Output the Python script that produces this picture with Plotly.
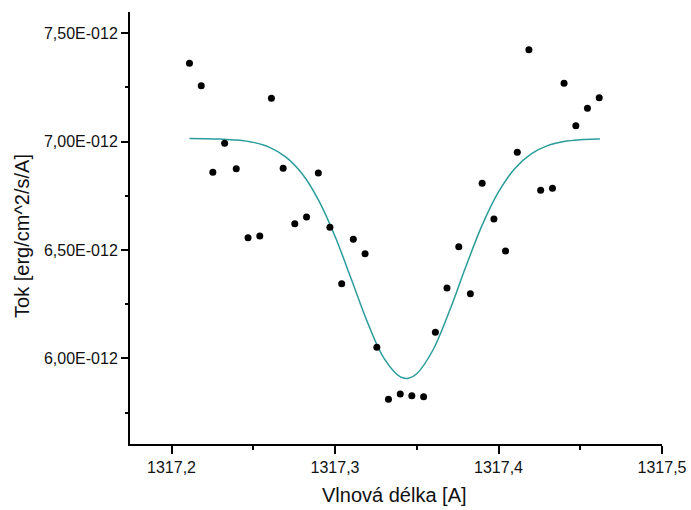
import numpy as np
import plotly.graph_objects as go

# Measured data points (wavelength in Angstrom, flux in 1e-12 erg/cm^2/s/A)
wavelength = [1317.2110, 1317.2182, 1317.2253, 1317.2325, 1317.2396, 1317.2468,
              1317.2540, 1317.2611, 1317.2683, 1317.2754, 1317.2826, 1317.2898,
              1317.2969, 1317.3041, 1317.3112, 1317.3184, 1317.3256, 1317.3327,
              1317.3399, 1317.3470, 1317.3542, 1317.3614, 1317.3685, 1317.3757,
              1317.3828, 1317.3900, 1317.3972, 1317.4043, 1317.4115, 1317.4186,
              1317.4258, 1317.4330, 1317.4401, 1317.4473, 1317.4544, 1317.4616]
flux_e12 = [7.3613, 7.2580, 6.8583, 6.9922, 6.8749, 6.5565,
            6.5644, 7.1998, 6.8768, 6.6211, 6.6521, 6.8551,
            6.6045, 6.3443, 6.5492, 6.4827, 6.0508, 5.8108,
            5.8353, 5.8274, 5.8228, 6.1200, 6.3244, 6.5150,
            6.2981, 6.8076, 6.6428, 6.4952, 6.9506, 7.4241,
            6.7753, 6.7845, 7.2690, 7.0734, 7.1537, 7.2026]

# Fitted profile
fit_wavelength = [1317.211, 1317.22, 1317.23, 1317.24, 1317.25, 1317.26, 1317.27,
                  1317.28, 1317.29, 1317.30, 1317.31, 1317.32, 1317.33, 1317.34,
                  1317.345, 1317.35, 1317.36, 1317.37, 1317.38, 1317.39, 1317.40,
                  1317.41, 1317.42, 1317.43, 1317.44, 1317.45, 1317.46, 1317.462]
fit_flux_e12 = [7.0140, 7.0135, 7.0118, 7.0074, 6.9966, 6.9736, 6.9285,
                6.8506, 6.7291, 6.5636, 6.3646, 6.1638, 6.0000, 5.9145,
                5.9080, 5.9290, 6.0396, 6.2184, 6.4223, 6.6145, 6.7679,
                6.8765, 6.9440, 6.9818, 7.0006, 7.0090, 7.0125, 7.0127]

x_ticks = [1317.2, 1317.3, 1317.4, 1317.5]
x_ticktext = ["1317,2", "1317,3", "1317,4", "1317,5"]
x_minor = [1317.25, 1317.35, 1317.45]
y_ticks_e12 = [6.0, 6.5, 7.0, 7.5]
y_ticktext = ["6,00E-012", "6,50E-012", "7,00E-012", "7,50E-012"]
y_minor_e12 = [5.75, 6.25, 6.75, 7.25]

scale = 1e-12
flux = np.array(flux_e12) * scale
fit_flux = np.array(fit_flux_e12) * scale

FONT = "Liberation Sans, Arial, sans-serif"

fig = go.Figure()
fig.add_trace(go.Scatter(x=fit_wavelength, y=fit_flux, mode="lines",
                         line=dict(color="#2a9d9a", width=1.5, shape="spline"),
                         showlegend=False, hoverinfo="skip"))
fig.add_trace(go.Scatter(x=wavelength, y=flux, mode="markers",
                         marker=dict(color="black", size=7),
                         showlegend=False))

fig.update_layout(
    width=691, height=510, autosize=False,
    margin=dict(l=130, r=29, t=12, b=66, autoexpand=False),
    paper_bgcolor="white", plot_bgcolor="white",
    font=dict(family=FONT, color="#111111"),
    xaxis=dict(
        range=[1317.17462, 1317.5], automargin=False,
        tickvals=x_ticks, ticktext=x_ticktext,
        ticks="outside", ticklen=8, tickwidth=2, tickcolor="black",
        showline=True, linecolor="black", linewidth=2,
        showgrid=False, zeroline=False,
        tickfont=dict(size=16, family=FONT, color="#111111"),
        minor=dict(tickvals=x_minor, ticks="outside", ticklen=4, tickwidth=2,
                   tickcolor="black", showgrid=False),
    ),
    yaxis=dict(
        range=[5.6047 * scale, 7.5982 * scale], automargin=False,
        tickvals=[v * scale for v in y_ticks_e12], ticktext=y_ticktext,
        ticks="outside", ticklen=7, tickwidth=2, tickcolor="black",
        showline=True, linecolor="black", linewidth=2,
        showgrid=False, zeroline=False,
        tickfont=dict(size=16, family=FONT, color="#111111"),
        minor=dict(tickvals=[v * scale for v in y_minor_e12], ticks="outside",
                   ticklen=3, tickwidth=2, tickcolor="black", showgrid=False),
    ),
    annotations=[
        dict(text="Vlnová délka [A]", xref="paper", yref="paper",
             x=0.4975, y=-0.1192, xanchor="center", yanchor="middle",
             showarrow=False, font=dict(size=20, family=FONT, color="#111111")),
        dict(text="Tok [erg/cm^2/s/A]", xref="paper", yref="paper",
             x=-0.2031, y=0.4815, xanchor="center", yanchor="middle",
             textangle=-90, showarrow=False,
             font=dict(size=20, family=FONT, color="#111111")),
    ],
)

fig.write_html("out.html")
